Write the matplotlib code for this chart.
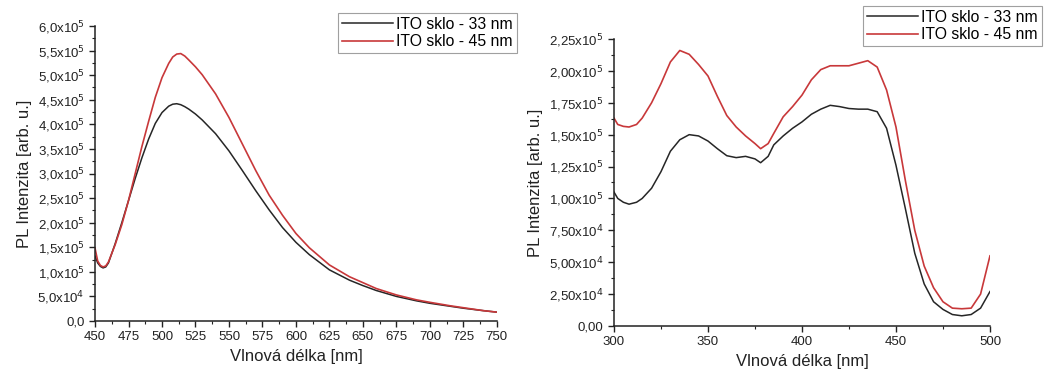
import matplotlib
matplotlib.use("Agg")
import matplotlib.pyplot as plt
from matplotlib.ticker import MultipleLocator, FuncFormatter

plt.rcParams['font.family'] = ['Liberation Sans', 'DejaVu Sans']

# PL emise (levý graf)
wl_em = [450, 452, 454, 456, 458, 460, 465, 470, 475, 480, 485, 490, 495, 500,
         505, 508, 511, 514, 517, 520, 525, 530, 540, 550, 560, 570, 580, 590,
         600, 610, 625, 640, 650, 660, 675, 690, 700, 715, 725, 740, 750]
em_33 = [1.32e5, 1.18e5, 1.11e5, 1.08e5, 1.10e5, 1.18e5, 1.57e5, 2.00e5, 2.45e5,
         2.90e5, 3.32e5, 3.70e5, 4.02e5, 4.24e5, 4.37e5, 4.41e5, 4.42e5, 4.40e5,
         4.36e5, 4.31e5, 4.21e5, 4.09e5, 3.81e5, 3.46e5, 3.06e5, 2.65e5, 2.26e5,
         1.90e5, 1.60e5, 1.35e5, 1.04e5, 8.3e4, 7.2e4, 6.2e4, 5.0e4, 4.1e4, 3.6e4,
         3.0e4, 2.6e4, 2.1e4, 1.8e4]
em_45 = [1.48e5, 1.22e5, 1.13e5, 1.10e5, 1.12e5, 1.20e5, 1.55e5, 1.96e5, 2.45e5,
         3.00e5, 3.55e5, 4.06e5, 4.55e5, 4.95e5, 5.24e5, 5.37e5, 5.43e5, 5.44e5,
         5.39e5, 5.31e5, 5.17e5, 5.01e5, 4.62e5, 4.14e5, 3.60e5, 3.06e5, 2.56e5,
         2.15e5, 1.78e5, 1.49e5, 1.14e5, 9.0e4, 7.8e4, 6.6e4, 5.3e4, 4.3e4, 3.8e4,
         3.1e4, 2.7e4, 2.1e4, 1.8e4]

# PL excitace (pravý graf)
wl_ex = [300, 302, 305, 308, 312, 315, 320, 325, 330, 335, 340, 345, 350, 355,
         360, 365, 370, 375, 378, 382, 385, 390, 395, 400, 405, 410, 415, 420,
         425, 430, 435, 440, 445, 450, 455, 460, 465, 470, 475, 480, 485, 490,
         495, 500]
ex_33 = [1.05e5, 1.00e5, 0.97e5, 0.955e5, 0.97e5, 1.00e5, 1.08e5, 1.21e5, 1.37e5,
         1.46e5, 1.50e5, 1.49e5, 1.45e5, 1.39e5, 1.335e5, 1.32e5, 1.33e5, 1.31e5,
         1.28e5, 1.33e5, 1.42e5, 1.49e5, 1.55e5, 1.60e5, 1.66e5, 1.70e5, 1.73e5,
         1.72e5, 1.705e5, 1.70e5, 1.70e5, 1.68e5, 1.55e5, 1.26e5, 0.92e5, 0.57e5,
         0.33e5, 0.19e5, 0.13e5, 0.09e5, 0.08e5, 0.09e5, 0.14e5, 0.27e5]
ex_45 = [1.63e5, 1.58e5, 1.565e5, 1.56e5, 1.58e5, 1.63e5, 1.75e5, 1.90e5, 2.07e5,
         2.16e5, 2.13e5, 2.05e5, 1.96e5, 1.80e5, 1.65e5, 1.56e5, 1.49e5, 1.43e5,
         1.39e5, 1.43e5, 1.51e5, 1.64e5, 1.72e5, 1.81e5, 1.93e5, 2.01e5, 2.04e5,
         2.04e5, 2.04e5, 2.06e5, 2.08e5, 2.03e5, 1.85e5, 1.56e5, 1.14e5, 0.75e5,
         0.47e5, 0.30e5, 0.19e5, 0.14e5, 0.135e5, 0.14e5, 0.25e5, 0.55e5]

labels = ["ITO sklo - 33 nm", "ITO sklo - 45 nm"]
c_black = "#262626"
c_red = "#c8383a"


def sci_fmt(decimals):
    def f(v, pos):
        if v == 0:
            return "0," + "0" * decimals
        exp = len(str(int(abs(v)))) - 1
        mant = v / 10 ** exp
        s = f"{mant:.{decimals}f}".replace(".", ",")
        return s + "x10$^{" + str(exp) + "}$"
    return FuncFormatter(f)


def style_axes(ax):
    for s in ("top", "right"):
        ax.spines[s].set_visible(False)
    for s in ("left", "bottom"):
        ax.spines[s].set_linewidth(1.1)
        ax.spines[s].set_color("#222222")
    ax.tick_params(which="major", direction="out", length=4, width=1.0,
                   labelsize=9.5, colors="#222222")
    ax.tick_params(which="minor", direction="out", length=2.5, width=0.8,
                   colors="#222222")
    ax.set_ylabel("PL Intenzita [arb. u.]", fontsize=12, color="#222222")
    ax.set_xlabel("Vlnová délka [nm]", fontsize=12, color="#222222")


def add_legend(ax, anchor):
    leg = fig.legend(*ax.get_legend_handles_labels(), loc="upper right",
                     bbox_to_anchor=anchor, fontsize=11.3,
                     frameon=True, fancybox=False, handlelength=3.3,
                     borderpad=0.25, labelspacing=0.15, handletextpad=0.2,
                     borderaxespad=0)
    leg.get_frame().set_edgecolor("#888888")
    leg.get_frame().set_linewidth(0.8)
    return leg


fig = plt.figure(figsize=(10.63, 3.71), dpi=100)

ax1 = fig.add_axes([0.0894, 0.1348, 0.378, 0.795])
ax1.plot(wl_em, em_33, color=c_black, lw=1.1, label=labels[0])
ax1.plot(wl_em, em_45, color=c_red, lw=1.2, label=labels[1])
ax1.set_xlim(450, 750)
ax1.set_ylim(0, 6.0e5)
ax1.xaxis.set_major_locator(MultipleLocator(25))
ax1.xaxis.set_minor_locator(MultipleLocator(12.5))
ax1.yaxis.set_major_locator(MultipleLocator(5e4))
ax1.yaxis.set_minor_locator(MultipleLocator(2.5e4))
ax1.yaxis.set_major_formatter(sci_fmt(1))
style_axes(ax1)
add_legend(ax1, (517 / 1063, 1 - 13 / 371))

ax2 = fig.add_axes([0.5776, 0.1213, 0.3537, 0.7736])
ax2.plot(wl_ex, ex_33, color=c_black, lw=1.1, label=labels[0])
ax2.plot(wl_ex, ex_45, color=c_red, lw=1.2, label=labels[1])
ax2.set_xlim(300, 500)
ax2.set_ylim(0, 2.25e5)
ax2.xaxis.set_major_locator(MultipleLocator(50))
ax2.xaxis.set_minor_locator(MultipleLocator(25))
ax2.yaxis.set_major_locator(MultipleLocator(2.5e4))
ax2.yaxis.set_minor_locator(MultipleLocator(1.25e4))
ax2.yaxis.set_major_formatter(sci_fmt(2))
style_axes(ax2)
add_legend(ax2, (1042 / 1063, 1 - 6 / 371))

fig.savefig("out.png", dpi=100, facecolor="white")
